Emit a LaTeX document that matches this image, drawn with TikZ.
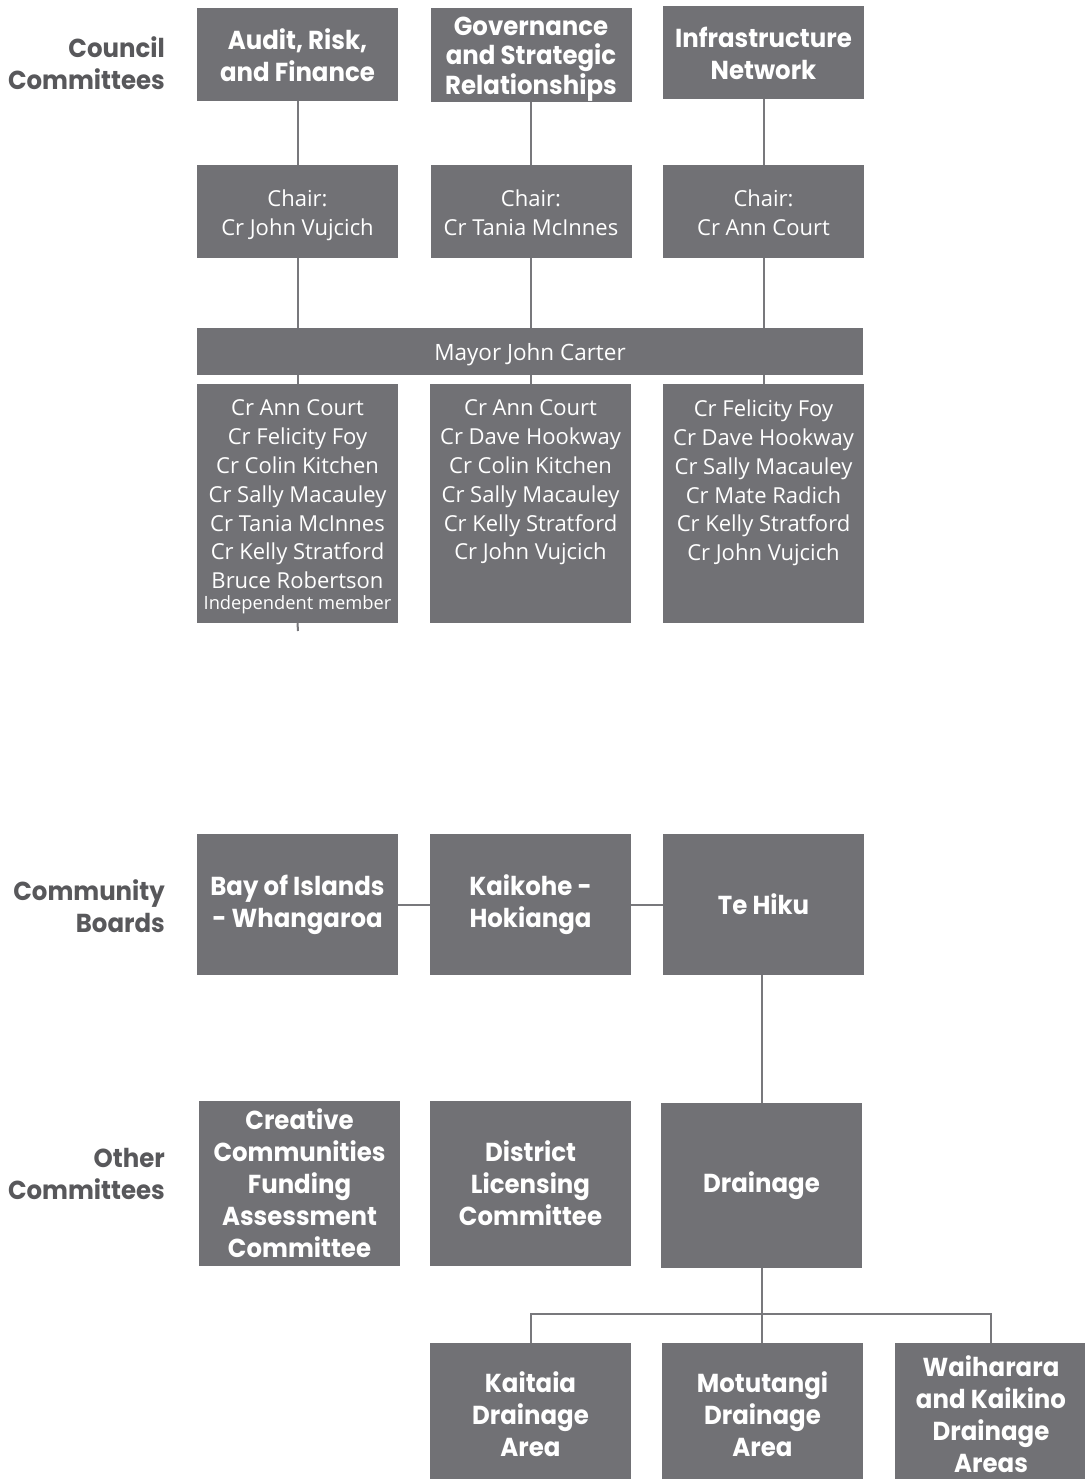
\documentclass[tikz,border=0pt]{standalone}
\usepackage{fontspec}
\setmainfont{Open Sans}
\newfontfamily\headfont{Poppins}[UprightFont=* Bold, FakeStretch=0.94]
\definecolor{boxgray}{RGB}{113,113,117}
\definecolor{linegray}{RGB}{120,120,124}
\definecolor{labelgray}{RGB}{88,88,91}
\begin{document}
\begin{tikzpicture}[x=1pt,y=-1pt,
  box/.style={fill=boxgray, draw=none, inner sep=0pt, minimum width=201pt, text=white, align=center},
  headtxt/.style={font=\headfont\fontsize{26}{32}\selectfont},
  bodytxt/.style={font=\fontsize{22}{28.8}\selectfont},
  wtxt/.style={text=white, align=center, inner sep=0pt},
  label/.style={text=labelgray, align=right, anchor=east, inner sep=0pt, font=\headfont\fontsize{26}{32}\selectfont},
  conn/.style={draw=linegray, line width=2pt}]
\useasboundingbox (0,0) rectangle (1084,1479);
% labels
\node[label] (lcc) at (165,63) {Council\\Committees};
\node[label] (lcb) at (165,906) {Community\\Boards};
\node[label] (loc) at (165,1174) {Other\\Committees};
% top headings
\node[box, headtxt, minimum height=93pt] (audit) at (297.5,54.5) {};
\node[wtxt, headtxt] (auditt) at ([yshift=-1pt]audit.center) {Audit, Risk,\\and Finance};
\node[box, minimum height=94pt] (gov) at (531,55) {};
\node[wtxt, font=\headfont\fontsize{26}{29.5}\selectfont] (govt) at ([yshift=-4pt]gov.center) {Governance\\and Strategic\\Relationships};
\node[box, minimum height=93pt] (infra) at (763.5,52.5) {};
\node[wtxt, headtxt] (infrat) at ([yshift=-1pt]infra.center) {Infrastructure\\Network};
% chairs
\node[box, minimum height=93pt] (ch1) at (297.5,211.5) {};
\node[box, minimum height=93pt] (ch2) at (531,211.5) {};
\node[box, minimum height=93pt] (ch3) at (763.5,211.5) {};
\node[wtxt, bodytxt, anchor=north] (ch1t) at ([yshift=-25pt]ch1.north) {Chair:\\Cr John Vujcich};
\node[wtxt, bodytxt, anchor=north] (ch2t) at ([yshift=-25pt]ch2.north) {Chair:\\Cr Tania McInnes};
\node[wtxt, bodytxt, anchor=north] (ch3t) at ([yshift=-25pt]ch3.north) {Chair:\\Cr Ann Court};
% mayor
\node[box, minimum width=666pt, minimum height=47pt] (mayor) at (530,351.5) {};
\node[wtxt, font=\fontsize{22.5}{28.8}\selectfont] (mayort) at ([yshift=-3pt]mayor.center) {Mayor John Carter};
% member boxes
\node[box, minimum height=239pt] (m1) at (297.5,503.5) {};
\node[box, minimum height=239pt] (m2) at (530.5,503.5) {};
\node[box, minimum height=239pt] (m3) at (763.5,503.5) {};
\node[wtxt, bodytxt, anchor=north] (t1) at ([yshift=-16pt]m1.north)
  {Cr Ann Court\\Cr Felicity Foy\\Cr Colin Kitchen\\Cr Sally Macauley\\Cr Tania McInnes\\Cr Kelly Stratford\\Bruce Robertson\\[-8pt]{\fontsize{18.3}{20}\selectfont Independent member}};
\node[wtxt, bodytxt, anchor=north] (t2) at ([yshift=-16pt]m2.north)
  {Cr Ann Court\\Cr Dave Hookway\\Cr Colin Kitchen\\Cr Sally Macauley\\Cr Kelly Stratford\\Cr John Vujcich};
\node[wtxt, bodytxt, anchor=north] (t3) at ([yshift=-16pt]m3.north)
  {Cr Felicity Foy\\Cr Dave Hookway\\Cr Sally Macauley\\Cr Mate Radich\\Cr Kelly Stratford\\Cr John Vujcich};
\coordinate (tail) at (298,631);
% community boards
\node[box, headtxt, minimum height=141pt] (bay) at (297.5,904.5) {Bay of Islands\\- Whangaroa};
\node[box, headtxt, minimum height=141pt] (kai) at (530.5,904.5) {Kaikohe -\\Hokianga};
\node[box, headtxt, minimum height=141pt] (teh) at (763.5,904.5) {Te Hiku};
% other committees
\node[box, headtxt, minimum height=165pt] (cre) at (299.5,1183.5) {Creative\\Communities\\Funding\\Assessment\\Committee};
\node[box, headtxt, minimum height=165pt] (dlc) at (530.5,1183.5) {District\\Licensing\\Committee};
\node[box, headtxt, minimum height=165pt] (dra) at (761.5,1185.5) {Drainage};
% drainage areas
\node[box, headtxt, minimum height=142pt] (kait) at (530.5,1414) {Kaitaia\\Drainage\\Area};
\node[box, headtxt, minimum height=142pt] (motu) at (762.5,1414) {Motutangi\\Drainage\\Area};
\node[box, headtxt, minimum width=192pt, minimum height=142pt] (waih) at (991,1414) {Waiharara\\and Kaikino\\Drainage\\Areas};
\coordinate (junc) at (761.5,1314);
% connectors
\draw[conn] (audit.south) -- (ch1.north);
\draw[conn] (gov.south -| ch2.north) -- (ch2.north);
\draw[conn] (infra.south -| ch3.north) -- (ch3.north);
\draw[conn] (ch1.south) -- (ch1.south |- mayor.north);
\draw[conn] (ch2.south) -- (ch2.south |- mayor.north);
\draw[conn] (ch3.south) -- (ch3.south |- mayor.north);
\draw[conn] (m1.north |- mayor.south) -- (m1.north);
\draw[conn] (m2.north |- mayor.south) -- (m2.north);
\draw[conn] (m3.north |- mayor.south) -- (m3.north);
\draw[conn] (m1.south) -- (tail);
\draw[conn] (bay.east) -- (kai.west);
\draw[conn] (kai.east) -- (teh.west);
\draw[conn] (teh.south -| dra.north) -- (dra.north);
\draw[conn] (dra.south) -- (dra.south |- motu.north);
\draw[conn] (kait.north) -- (kait.north |- junc) -- (junc -| waih.north) -- (waih.north);
\end{tikzpicture}
\end{document}
